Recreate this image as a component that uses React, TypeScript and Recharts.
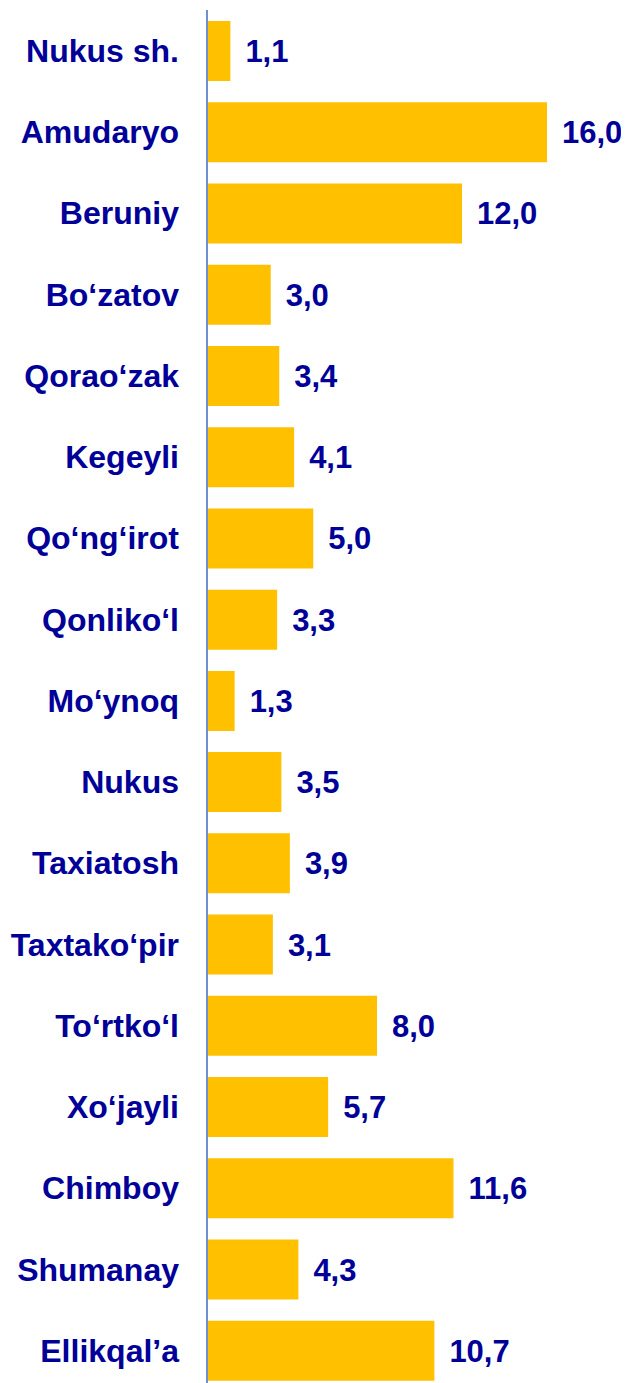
import { BarChart, Bar, XAxis, YAxis, LabelList } from "recharts";

// districts, top to bottom
const districts = [
  "Nukus sh.",
  "Amudaryo",
  "Beruniy",
  "Bo‘zatov",
  "Qorao‘zak",
  "Kegeyli",
  "Qo‘ng‘irot",
  "Qonliko‘l",
  "Mo‘ynoq",
  "Nukus",
  "Taxiatosh",
  "Taxtako‘pir",
  "To‘rtko‘l",
  "Xo‘jayli",
  "Chimboy",
  "Shumanay",
  "Ellikqal’a",
];

const values = [1.1, 16.0, 12.0, 3.0, 3.4, 4.1, 5.0, 3.3, 1.3, 3.5, 3.9, 3.1, 8.0, 5.7, 11.6, 4.3, 10.7];

const data = districts.map((name, i) => ({ name, value: values[i] }));

const FONT = "Arial, 'Liberation Sans', sans-serif";
const TEXT_COLOR = "#000099";

export default function App() {
  return (
    <div style={{ marginLeft: -8, marginTop: -8, width: 629, height: 1392 }}>
      <BarChart
        width={629}
        height={1392}
        data={data}
        layout="vertical"
        margin={{ top: 10, right: 39.5, bottom: 1, left: 0 }}
      >
        <XAxis type="number" domain={[0, 18]} hide />
        <YAxis
          type="category"
          dataKey="name"
          width={207}
          axisLine={{ stroke: "#6F8FD0", strokeWidth: 2 }}
          tickLine={false}
          tickSize={0}
          tickMargin={28}
          interval={0}
          tick={{ fill: TEXT_COLOR, fontSize: 32, fontWeight: "bold", fontFamily: FONT }}
        />
        <Bar dataKey="value" fill="#FFC000" barSize={60} isAnimationActive={false}>
          <LabelList
            dataKey="value"
            position="right"
            offset={15}
            formatter={(v: number) => v.toFixed(1).replace(".", ",")}
            style={{ fill: TEXT_COLOR, fontSize: 31, fontWeight: "bold", fontFamily: FONT }}
          />
        </Bar>
      </BarChart>
    </div>
  );
}
